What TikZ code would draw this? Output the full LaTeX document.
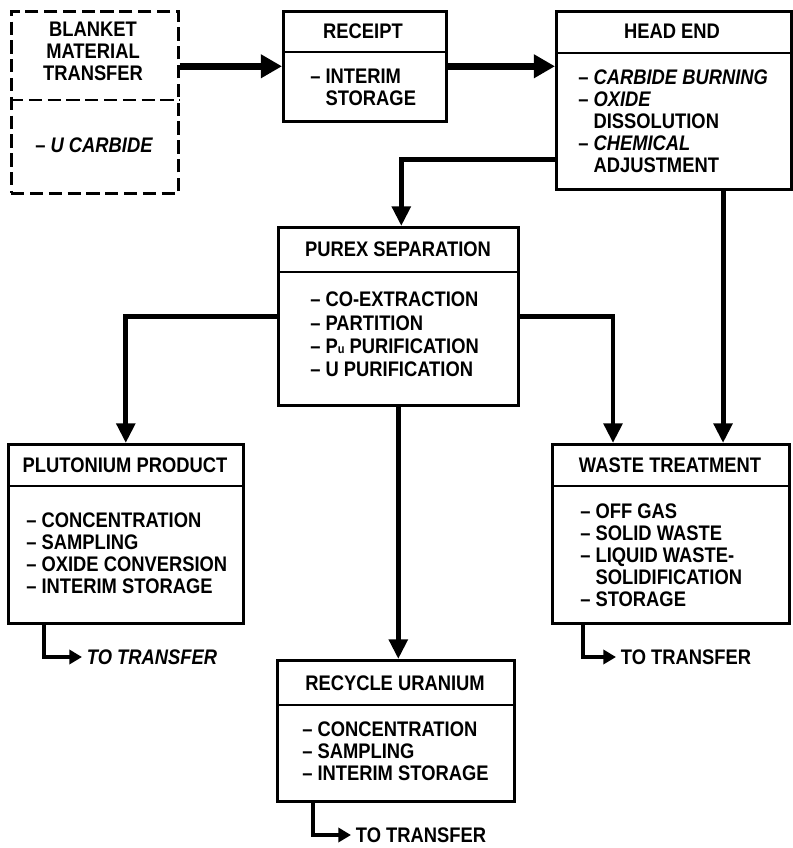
\documentclass[tikz,border=0pt]{standalone}
\usepackage{fontspec}
\setmainfont{Liberation Sans}[FakeStretch=0.87]
\usetikzlibrary{arrows.meta}

\tikzset{
  every node/.style={font=\fontsize{15}{15.6}\selectfont\bfseries},
  stage/.style={draw, line width=1.8pt, anchor=north west, inner sep=0pt},
  items/.style={anchor=west, align=left, inner sep=0pt},
  flow/.style={line width=3.5pt, -{Triangle[length=14pt, width=13pt]}},
  mainflow/.style={line width=5pt, -{Triangle[length=15pt, width=16pt]}},
  outflow/.style={line width=2.8pt, -{Triangle[length=9pt, width=10pt]}},
}

\begin{document}
\begin{tikzpicture}[x=0.025cm, y=-0.025cm]
    \useasboundingbox (0, 0) rectangle (793, 848);

    % boxes
    \node[stage, dashed, dash pattern=on 0.33cm off 0.14cm,
          minimum width=4.175cm, minimum height=4.55cm] (blanket) at (10, 10) {};
    \node[stage, minimum width=4.075cm, minimum height=2.75cm] (receipt) at (282, 10) {};
    \node[stage, minimum width=5.875cm, minimum height=4.45cm] (headend) at (555, 10) {};
    \node[stage, minimum width=6cm, minimum height=4.45cm] (purex) at (277, 226) {};
    \node[stage, minimum width=5.875cm, minimum height=4.475cm] (pluto) at (7, 443) {};
    \node[stage, minimum width=5.925cm, minimum height=4.475cm] (waste) at (551, 443) {};
    \node[stage, minimum width=5.925cm, minimum height=3.525cm] (recycle) at (276, 659) {};

    % title bands
    \draw[line width=1.8pt, dashed, dash pattern=on 0.33cm off 0.14cm]
        (blanket.west |- 0, 100) -- (blanket.east |- 0, 100);
    \draw[line width=1.8pt] (receipt.west |- 0, 52) -- (receipt.east |- 0, 52);
    \draw[line width=1.8pt] (headend.west |- 0, 53) -- (headend.east |- 0, 53);
    \draw[line width=1.8pt] (purex.west |- 0, 272) -- (purex.east |- 0, 272);
    \draw[line width=1.8pt] (pluto.west |- 0, 486) -- (pluto.east |- 0, 486);
    \draw[line width=1.8pt] (waste.west |- 0, 486) -- (waste.east |- 0, 486);
    \draw[line width=1.8pt] (recycle.west |- 0, 705) -- (recycle.east |- 0, 705);

    % titles
    \node[align=center] (blankettitle) at (93, 51) {BLANKET\\MATERIAL\\TRANSFER};
    \node (receipttitle) at (363, 31) {RECEIPT};
    \node (headendtitle) at (672, 31) {HEAD END};
    \node (purextitle) at (398, 249) {PUREX SEPARATION};
    \node (plutotitle) at (125, 465) {PLUTONIUM PRODUCT};
    \node (wastetitle) at (670, 465) {WASTE TREATMENT};
    \node (recycletitle) at (395, 683) {RECYCLE URANIUM};

    % contents
    \node[items] (blanketitems) at (35, 145) {– \textit{U CARBIDE}};
    \node[items] (receiptitems) at (310, 87.5) {– INTERIM\\\phantom{– }STORAGE};
    \node[items] (headenditems) at (578, 121)
        {– \textit{CARBIDE BURNING}\\– \textit{OXIDE}\\\phantom{– }DISSOLUTION\\– \textit{CHEMICAL}\\\phantom{– }ADJUSTMENT};
    \node[items, font=\fontsize{15}{16.5}\selectfont\bfseries] (purexitems) at (310, 334.5)
        {– CO-EXTRACTION\\– PARTITION\\– P{\small u} PURIFICATION\\– U PURIFICATION};
    \node[items] (plutoitems) at (26, 553)
        {– CONCENTRATION\\– SAMPLING\\– OXIDE CONVERSION\\– INTERIM STORAGE};
    \node[items] (wasteitems) at (580, 555)
        {– OFF GAS\\– SOLID WASTE\\– LIQUID WASTE-\\\phantom{– }SOLIDIFICATION\\– STORAGE};
    \node[items] (recycleitems) at (302, 751.5)
        {– CONCENTRATION\\– SAMPLING\\– INTERIM STORAGE};

    % outputs
    \node[anchor=west] (plutoout) at (82, 657) {\textit{TO TRANSFER}};
    \node[anchor=west] (wasteout) at (616, 657) {TO TRANSFER};
    \node[anchor=west] (recycleout) at (351, 835) {TO TRANSFER};

    % flow between stages
    \draw[mainflow] (blanket.east |- receipt.west) -- (receipt.west);
    \draw[mainflow] (receipt.east) -- (receipt.east -| headend.west);
    \draw[flow] ([yshift=0.775cm]headend.south west) -| ([xshift=0.075cm]purex.north);
    \draw[flow] (purex.west) -| (pluto.north);
    \draw[flow] (purex.east) -| ([xshift=1.55cm]waste.north west);
    \draw[flow] ([xshift=4.2cm]headend.south west) coordinate (hw) -- (hw |- waste.north);
    \draw[flow] (purex.south) -- (purex.south |- recycle.north);

    \draw[outflow] ([xshift=0.925cm]pluto.south west) |- (plutoout.west);
    \draw[outflow] ([xshift=0.8cm]waste.south west) |- (wasteout.west);
    \draw[outflow] ([xshift=0.925cm]recycle.south west) |- (recycleout.west);
\end{tikzpicture}
\end{document}
